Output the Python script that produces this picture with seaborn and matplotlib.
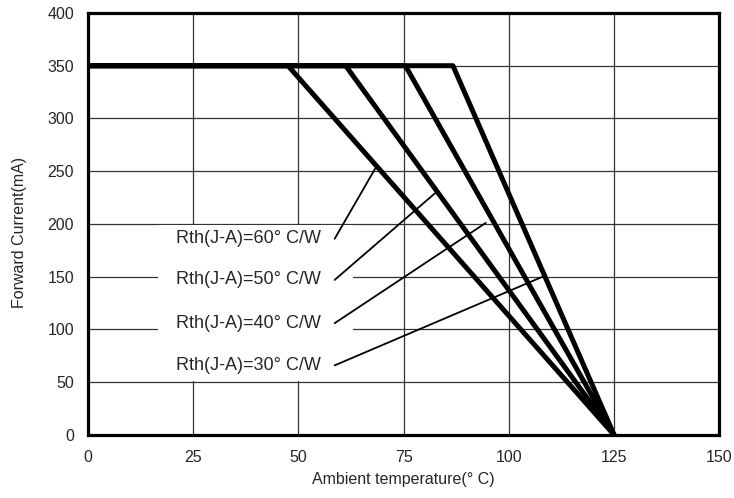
import pandas as pd
import seaborn as sns
import matplotlib.pyplot as plt
from matplotlib.patches import Rectangle

# ---------- data ----------
rth_labels = ["60", "50", "40", "30"]
knee_temp = [47.5, 61.2, 75.4, 86.7]     # deg C where derating starts
max_current = 350                         # mA
zero_temp = 125                           # deg C where current reaches 0

label_y = [186, 147, 106, 66]             # label centre heights (mA)
leader_end_x = [68.3, 82.4, 94.5, 108.0]
leader_end_y = [253, 229, 201, 150]

rows = []
for lab, k in zip(rth_labels, knee_temp):
    for t, c in [(0, max_current), (k, max_current), (zero_temp, 0)]:
        rows.append({"Rth": lab, "temp": t, "current": c})
df = pd.DataFrame(rows)

# ---------- plot ----------
sns.set_style("white")
plt.rcParams["font.family"] = ["Liberation Sans", "DejaVu Sans"]

fig = plt.figure(figsize=(7.34, 4.98), dpi=100)
ax = fig.add_axes([0.12, 0.1265, 0.86, 0.8475])

ax.grid(True, color="#333333", linewidth=0.9, zorder=0)
ax.set_axisbelow(True)

# white box behind the labels hides part of the grid
ax.add_patch(Rectangle((16.5, 51), 46.5, 148, facecolor="white",
                       edgecolor="none", zorder=1))

sns.lineplot(data=df, x="temp", y="current", units="Rth", estimator=None,
             color="black", linewidth=3.6, sort=False, legend=False,
             ax=ax, zorder=3)

for lab, ly, ex, ey in zip(rth_labels, label_y, leader_end_x, leader_end_y):
    ax.text(21, ly, f"Rth(J-A)={lab}° C/W", fontsize=13, va="center",
            ha="left", zorder=4)
    ax.plot([58.6, ex], [ly, ey], color="black", linewidth=1.3, zorder=4)

ax.set_xlim(0, 150)
ax.set_ylim(0, 400)
ax.set_xticks(range(0, 151, 25))
ax.set_yticks(range(0, 401, 50))
ax.tick_params(axis="both", labelsize=11.5, length=0)
ax.tick_params(axis="y", pad=10)
ax.tick_params(axis="x", pad=11)
ax.set_xlabel("Ambient temperature(° C)", fontsize=11.5)
ax.set_ylabel("Forward Current(mA)", fontsize=11.5)
ax.xaxis.set_label_coords(0.5, -0.088)
ax.yaxis.set_label_coords(-0.096, 0.481)

for s in ax.spines.values():
    s.set_visible(True)
    s.set_color("black")
    s.set_linewidth(2.3)

fig.savefig("out.png", dpi=100)
